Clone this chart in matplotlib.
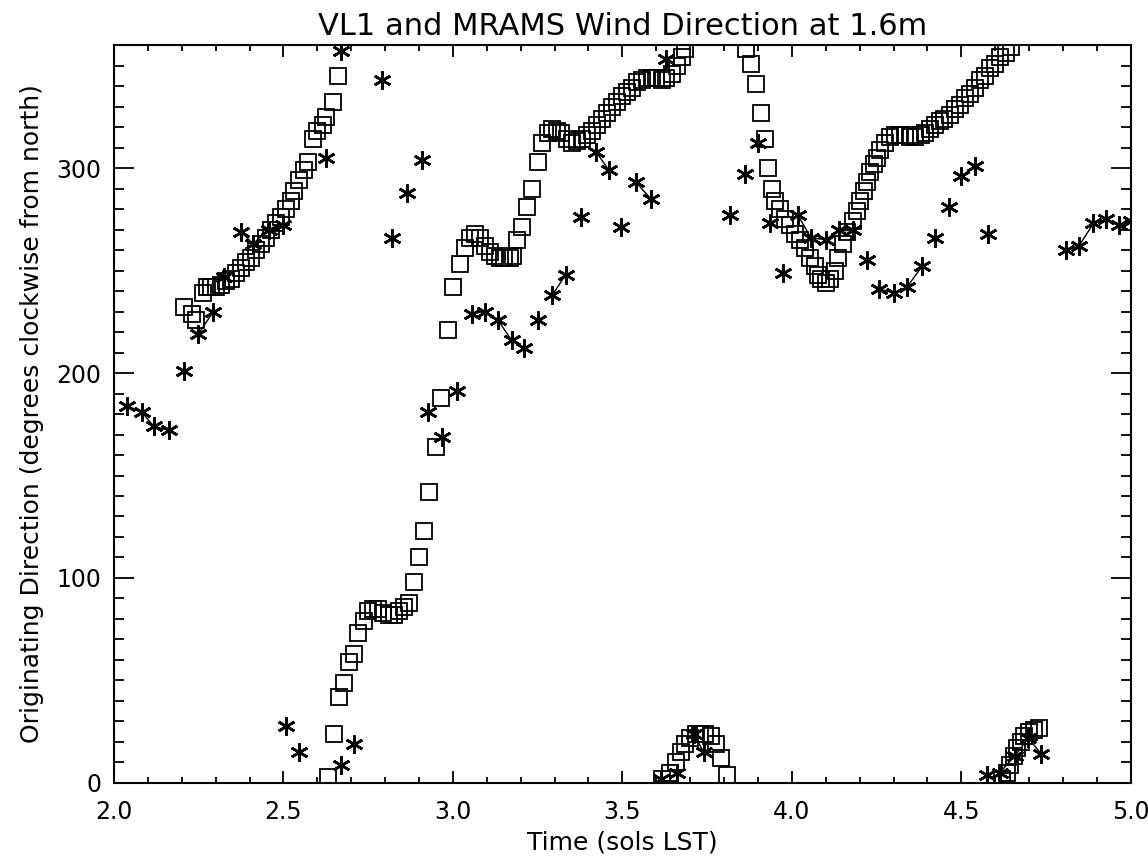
import numpy as np
import matplotlib
matplotlib.use("Agg")
import matplotlib.pyplot as plt
from matplotlib.ticker import MultipleLocator

plt.rcParams['font.family'] = ['DejaVu Sans']

# MRAMS model output (squares)
mrams_time = [
    2.208, 2.229, 2.243, 2.264, 2.273, 2.287, 2.300, 2.317, 2.330, 2.346, 2.360, 2.375,
    2.390, 2.405, 2.420, 2.434, 2.449, 2.463, 2.478, 2.493, 2.507, 2.522, 2.530, 2.545,
    2.560, 2.572, 2.587, 2.600, 2.616, 2.625, 2.645, 2.660,
    2.630, 2.650, 2.663, 2.678, 2.692, 2.707, 2.720, 2.737, 2.750, 2.765, 2.780, 2.795,
    2.810, 2.825, 2.840, 2.855, 2.870, 2.885, 2.900, 2.915, 2.930, 2.950, 2.965, 2.985,
    3.000, 3.020, 3.035, 3.050, 3.065, 3.080, 3.094, 3.108, 3.123, 3.138, 3.152, 3.167,
    3.176, 3.190, 3.205, 3.220, 3.232, 3.250, 3.264, 3.280, 3.293, 3.308, 3.320, 3.337,
    3.350, 3.367, 3.380, 3.396, 3.410, 3.425, 3.440, 3.455, 3.470, 3.484, 3.500, 3.513,
    3.528, 3.543, 3.557, 3.572, 3.587, 3.600, 3.616, 3.630, 3.645, 3.660, 3.675, 3.686,
    3.616, 3.640, 3.657, 3.672, 3.686, 3.700, 3.716, 3.730, 3.745, 3.760, 3.775, 3.790,
    3.808,
    3.865, 3.880, 3.895, 3.910, 3.920, 3.930, 3.940, 3.950, 3.965, 3.980, 3.995, 4.010,
    4.023, 4.040, 4.053, 4.067, 4.076, 4.085, 4.100, 4.114, 4.126, 4.135, 4.150, 4.164,
    4.180, 4.193, 4.200, 4.214, 4.223, 4.230, 4.243, 4.250, 4.260, 4.276, 4.290, 4.305,
    4.320, 4.334, 4.350, 4.364, 4.380, 4.393, 4.408, 4.422, 4.437, 4.450, 4.466, 4.480,
    4.496, 4.510, 4.525, 4.540, 4.554, 4.570, 4.584, 4.600, 4.613, 4.633, 4.648,
    4.620, 4.635, 4.645, 4.655, 4.665, 4.675, 4.685, 4.700, 4.715, 4.730,
]
mrams_dir = [
    232, 229, 226, 239, 242, 242, 242, 243, 245, 246, 249, 251,
    254, 256, 260, 263, 266, 270, 273, 276, 280, 284, 289, 294,
    299, 303, 314, 318, 321, 325, 332, 345,
    3, 24, 42, 49, 59, 63, 73, 79, 84, 85, 85, 83,
    82, 82, 84, 86, 88, 98, 110, 123, 142, 164, 188, 221,
    242, 253, 261, 266, 268, 266, 262, 259, 257, 256, 256, 256,
    257, 265, 271, 281, 290, 303, 312, 317, 319, 318, 317, 314,
    312, 313, 314, 316, 318, 321, 324, 327, 330, 332, 335, 337,
    339, 342, 343, 344, 344, 344, 343, 344, 346, 350, 354, 358,
    2, 5, 10, 15, 19, 22, 24, 24, 24, 23, 19, 12,
    4,
    358, 351, 341, 327, 314, 300, 290, 284, 280, 275, 272, 268,
    265, 261, 256, 252, 248, 246, 244, 246, 250, 256, 263, 269,
    274, 279, 284, 289, 293, 298, 302, 305, 309, 312, 315, 316,
    316, 316, 315, 315, 316, 317, 319, 321, 323, 324, 326, 329,
    331, 334, 336, 339, 343, 345, 349, 351, 354, 356, 359,
    2, 5, 9, 13, 17, 20, 23, 25, 26, 27,
]

# VL1 observations (asterisks)
vl1_time = [
    2.038, 2.082, 2.117, 2.161, 2.208, 2.249, 2.293, 2.326, 2.375, 2.410, 2.457, 2.500,
    2.507, 2.546, 2.625, 2.669, 2.669, 2.707, 2.790, 2.820, 2.865, 2.909, 2.927, 2.968,
    3.012, 3.056, 3.094, 3.132, 3.173, 3.211, 3.250, 3.293, 3.333, 3.378, 3.422, 3.460,
    3.496, 3.540, 3.584, 3.613, 3.630, 3.660, 3.710, 3.740, 3.818, 3.862, 3.900, 3.936,
    3.974, 4.018, 4.056, 4.100, 4.140, 4.180, 4.223, 4.258, 4.302, 4.340, 4.384, 4.422,
    4.463, 4.500, 4.540, 4.575, 4.580, 4.613, 4.657, 4.698, 4.736, 4.810, 4.847, 4.890,
    4.927, 4.965, 5.000,
]
vl1_dir = [
    184, 181, 174, 172, 201, 219, 230, 247, 269, 263, 270, 272,
    28, 15, 305, 9, 357, 19, 343, 266, 288, 304, 181, 169,
    191, 229, 230, 226, 216, 212, 226, 238, 248, 276, 308, 299,
    271, 293, 285, 2, 353, 5, 24, 15, 277, 297, 312, 273,
    249, 277, 266, 265, 270, 270, 255, 241, 239, 242, 252, 266,
    281, 296, 301, 4, 268, 5, 13, 22, 14, 260, 262, 273,
    275, 272, 274,
]

fig = plt.figure(figsize=(11.48, 8.57), dpi=100)
ax = fig.add_axes([0.0993, 0.0864, 0.8857, 0.861])

ax.plot(mrams_time, mrams_dir, linestyle='none', marker='s', ms=11.5,
        mfc='none', mec='black', mew=1.3)

t = np.array(vl1_time)
d = np.array(vl1_dir)
order = np.argsort(t, kind='stable')
t, d = t[order], d[order]
for i in range(len(t) - 1):
    if t[i + 1] - t[i] < 0.05 and abs(d[i + 1] - d[i]) <= 11:
        ax.plot(t[i:i + 2], d[i:i + 2], color='black', lw=1.0)
ax.plot(t, d, linestyle='none', marker=(6, 2, 0), ms=13, mec='black', mew=1.9)

ax.set_xlim(2.0, 5.0)
ax.set_ylim(0, 360)
ax.xaxis.set_major_locator(MultipleLocator(0.5))
ax.xaxis.set_minor_locator(MultipleLocator(0.1))
ax.yaxis.set_major_locator(MultipleLocator(100))
ax.yaxis.set_minor_locator(MultipleLocator(10))
ax.xaxis.set_major_formatter(plt.FormatStrFormatter('%.1f'))

ax.tick_params(axis='both', which='both', direction='in', top=True, right=True,
               width=1.3, labelsize=17, colors='black')
ax.tick_params(axis='x', which='major', length=8.6, pad=12)
ax.tick_params(axis='x', which='minor', length=4.3)
ax.tick_params(axis='y', which='major', length=14.4, pad=9)
ax.tick_params(axis='y', which='minor', length=7.2)
for s in ax.spines.values():
    s.set_linewidth(1.5)

ax.set_title('VL1 and MRAMS Wind Direction at 1.6m', fontsize=22, pad=7)
ax.set_xlabel('Time (sols LST)', fontsize=18, labelpad=5)
ax.set_ylabel('Originating Direction (degrees clockwise from north)', fontsize=18, labelpad=9)

fig.savefig('out.png', dpi=100, facecolor='white')
